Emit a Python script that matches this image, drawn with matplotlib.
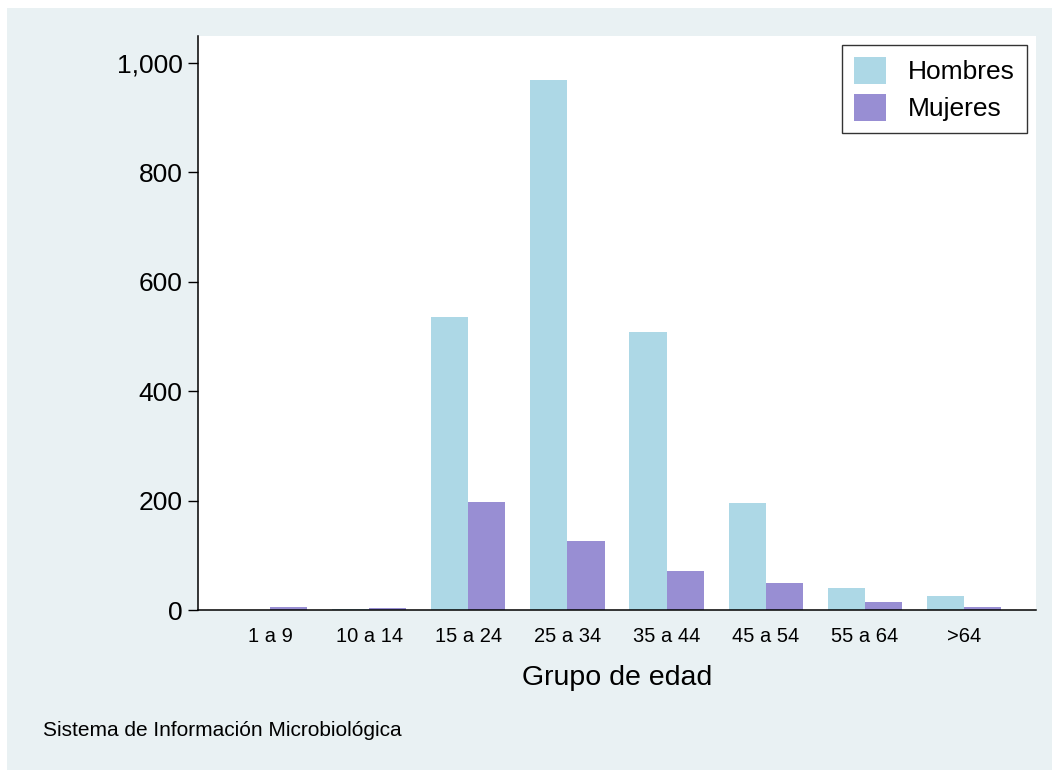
import matplotlib
matplotlib.use("Agg")
import matplotlib.pyplot as plt
import numpy as np
from matplotlib.patches import Rectangle

plt.rcParams['font.family'] = ['Liberation Sans', 'DejaVu Sans']

categories = ["1 a 9", "10 a 14", "15 a 24", "25 a 34", "35 a 44", "45 a 54", "55 a 64", ">64"]
hombres = [0, 2, 536, 969, 508, 196, 41, 25]
mujeres = [5, 4, 197, 126, 71, 49, 14, 5]
yticks = [0, 200, 400, 600, 800, 1000]
ytick_labels = ["0", "200", "400", "600", "800", "1,000"]

W, H = 1052, 770
fig = plt.figure(figsize=(W / 100, H / 100), dpi=100)
fig.patch.set_facecolor("white")
# graph region background
fig.patches.append(Rectangle((7 / W, 0), 1 - 7 / W, 1 - 8 / H, transform=fig.transFigure,
                             facecolor="#E9F1F3", edgecolor="none", zorder=-10))

ax = fig.add_axes([198 / W, 1 - 610 / H, (1036 - 198) / W, (610 - 36) / H])
ax.set_facecolor("white")

x = np.arange(len(categories))
bw = 0.374
ax.bar(x - bw / 2, hombres, width=bw, color="#ADD8E6", label="Hombres", edgecolor="none")
ax.bar(x + bw / 2, mujeres, width=bw, color="#988ED3", label="Mujeres", edgecolor="none")

ax.set_xlim(-0.727, 7.727)
ax.set_ylim(0, 1049)
ax.set_yticks(yticks)
ax.set_yticklabels(ytick_labels, fontsize=19)
ax.set_xticks(x)
ax.set_xticklabels(categories, fontsize=14.5)
ax.tick_params(axis="x", length=0, pad=12)
ax.tick_params(axis="y", length=7, width=1, direction="out", pad=4)

for s in ["top", "right"]:
    ax.spines[s].set_visible(False)
for s in ["left", "bottom"]:
    ax.spines[s].set_linewidth(1.1)
    ax.spines[s].set_color("black")

ax.set_xlabel("Grupo de edad", fontsize=20.5, labelpad=14)

leg = ax.legend(loc="upper right", bbox_to_anchor=(1027 / W, 1 - 45 / H), bbox_transform=fig.transFigure,
                fontsize=19, frameon=True, fancybox=False, handlelength=1.2, handleheight=1.2,
                labelspacing=0.36, borderpad=0.45, handletextpad=0.85, borderaxespad=0)
leg.get_frame().set_edgecolor("black")
leg.get_frame().set_linewidth(1.0)

fig.text(43 / W, 1 - 730 / H, "Sistema de Información Microbiológica", fontsize=15, va="center", ha="left")

fig.savefig("out.png", dpi=100)
